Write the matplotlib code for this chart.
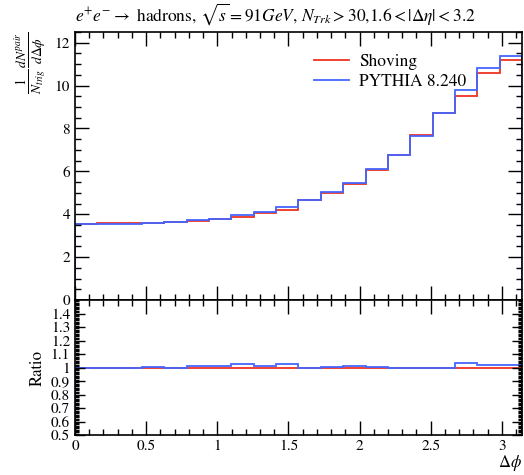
import matplotlib
matplotlib.use("Agg")
import matplotlib.pyplot as plt
import numpy as np
from matplotlib.ticker import MultipleLocator

plt.rcParams['font.family'] = ['STIXGeneral', 'DejaVu Serif']
plt.rcParams['mathtext.fontset'] = 'stix'

# 20 bins in delta phi from 0 to pi
edges = np.linspace(0, np.pi, 21)
shoving = [3.53, 3.58, 3.57, 3.58, 3.63, 3.68, 3.76, 3.85, 4.07, 4.22,
           4.68, 5.00, 5.41, 6.07, 6.78, 7.71, 8.70, 9.50, 10.58, 11.20]
pythia = [3.53, 3.56, 3.55, 3.60, 3.63, 3.72, 3.80, 3.95, 4.12, 4.33,
          4.68, 5.03, 5.46, 6.09, 6.78, 7.67, 8.70, 9.79, 10.81, 11.37]
labels = ["Shoving", "PYTHIA 8.240"]
red = '#ee3322'
blue = '#4466ff'

shoving = np.array(shoving)
pythia = np.array(pythia)

fig = plt.figure(figsize=(5.24, 4.75), dpi=100)
ax = fig.add_axes([0.1431, 0.3684, 0.8531, 0.5642])
rx = fig.add_axes([0.1431, 0.0842, 0.8531, 0.2842])

ax.stairs(shoving, edges, color=red, lw=1.3, label=labels[0])
ax.stairs(pythia, edges, color=blue, lw=1.3, label=labels[1])
rx.stairs(shoving / shoving, edges, color=red, lw=1.3)
rx.stairs(pythia / shoving, edges, color=blue, lw=1.3)

for a in (ax, rx):
    a.set_xlim(0, np.pi)
    a.xaxis.set_major_locator(MultipleLocator(0.5))
    a.xaxis.set_minor_locator(MultipleLocator(0.1))
    a.tick_params(which='both', direction='in', top=True, right=True,
                  labelsize=11, width=1)
    a.tick_params(which='major', length=10)
    a.tick_params(which='minor', length=4.5)
    for s in a.spines.values():
        s.set_linewidth(1.2)

ax.set_ylim(0, 12.5)
ax.yaxis.set_major_locator(MultipleLocator(2))
ax.yaxis.set_minor_locator(MultipleLocator(0.5))
ax.tick_params(labelbottom=False)

rx.set_ylim(0.5, 1.5)
rx.yaxis.set_major_locator(MultipleLocator(0.1))
rx.yaxis.set_minor_locator(MultipleLocator(0.01))
rx.set_yticks(np.round(np.arange(0.5, 1.45, 0.1), 1))
rx.set_yticklabels(['0.5', '0.6', '0.7', '0.8', '0.9', '1', '1.1', '1.2', '1.3', '1.4'])
rx.tick_params(axis='y', which='minor', length=3)
rx.tick_params(axis='y', which='major', length=7)
rx.set_xticks([0, 0.5, 1, 1.5, 2, 2.5, 3])
rx.set_xticklabels(['0', '0.5', '1', '1.5', '2', '2.5', '3'])

ax.set_title(r'$e^{+}e^{-} \rightarrow$ hadrons, $\sqrt{s} = 91GeV$, $N_{Trk} > 30$,$1.6 < |\Delta\eta| < 3.2$',
             loc='left', fontsize=12.5, pad=8)
ax.set_ylabel(r'$\frac{1}{N_{trig}}\frac{dN^{pair}}{d\Delta\phi}$', loc='top', fontsize=14)
rx.set_ylabel('Ratio', fontsize=12)
rx.set_xlabel(r'$\Delta\phi$', loc='right', fontsize=12, labelpad=0)

ax.legend(loc='upper left', bbox_to_anchor=(0.5, 0.975), frameon=False,
          fontsize=12.5, handlelength=2.0, handletextpad=0.6, labelspacing=0.2)

fig.savefig('out.png', dpi=100)
